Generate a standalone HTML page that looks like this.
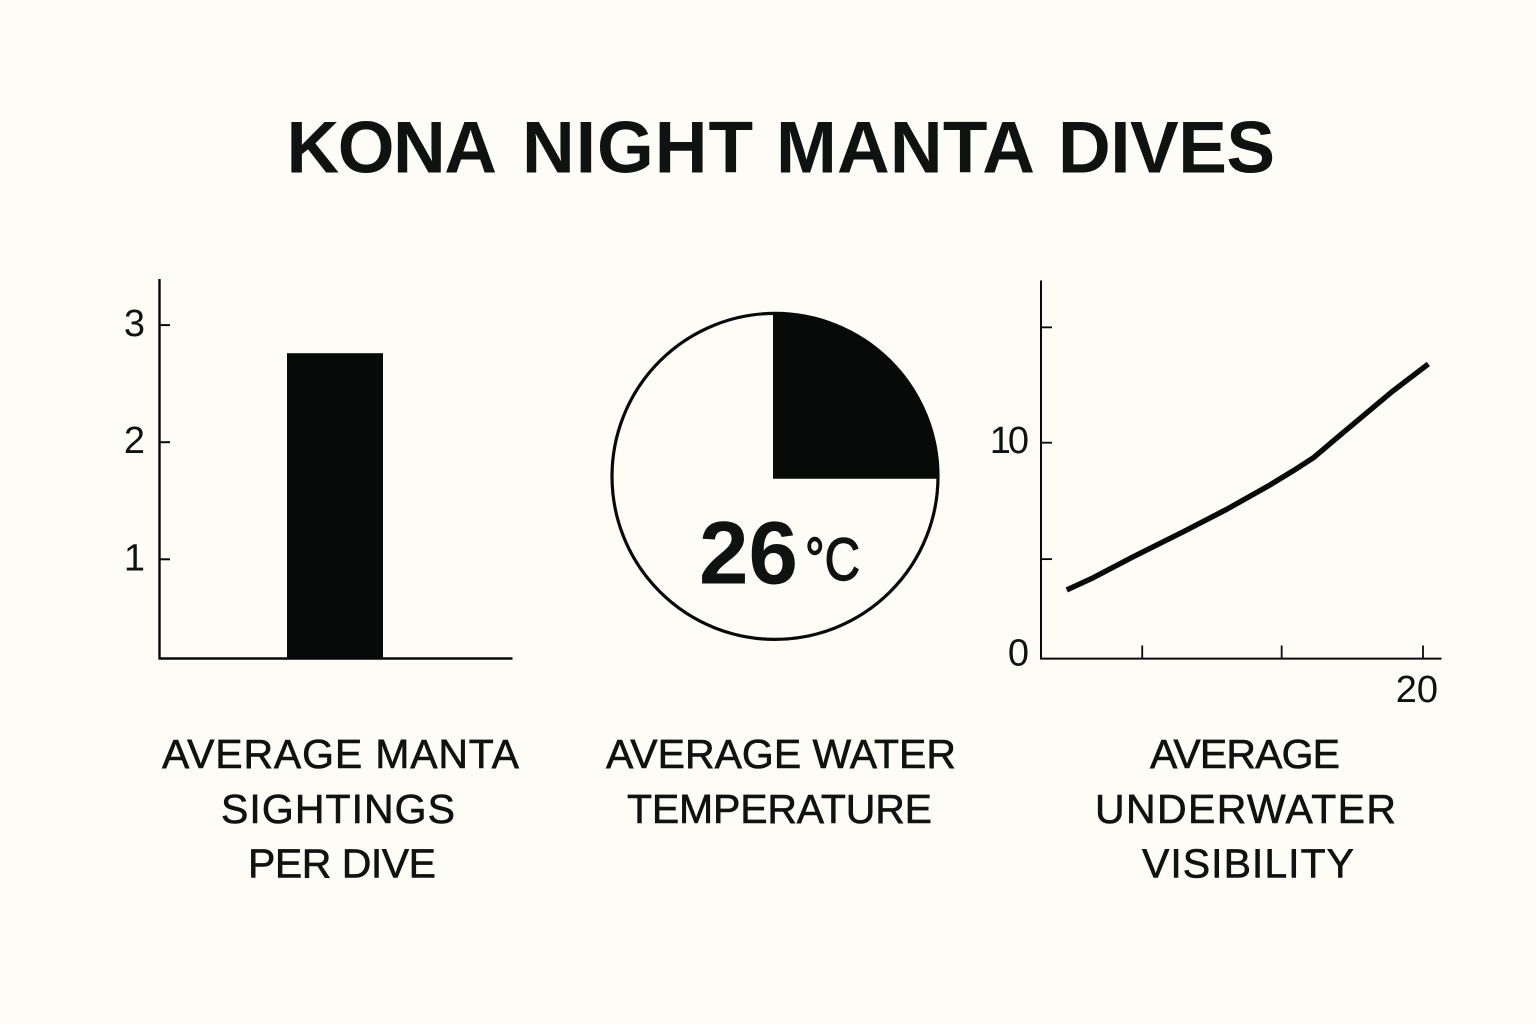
<!DOCTYPE html>
<html lang="en">
<head>
<meta charset="utf-8">
<title>Kona Night Manta Dives</title>
<style>
html,body{margin:0;padding:0;background:#fefcf7;}
svg{display:block;}
text{font-family:"Liberation Sans",sans-serif;fill:#0e1211;}
.cap{font-size:41px;stroke:#0e1211;stroke-width:.6px;}
.tick{font-size:38px;}
</style>
</head>
<body>
<svg id="chart" xmlns="http://www.w3.org/2000/svg" width="1536" height="1024" viewBox="0 0 1536 1024">
  <rect width="1536" height="1024" fill="#fefcf7"/>
  <text y="172.5" font-size="73" font-weight="700"><tspan x="286.5" letter-spacing="-1.5">KONA</tspan> <tspan x="522" letter-spacing="1">NIGHT</tspan> <tspan x="776" letter-spacing="0.2">MANTA</tspan> <tspan x="1058" letter-spacing="-0.5">DIVES</tspan></text>

  <g id="bar-panel"></g>
  <g id="pie-panel"></g>
  <g id="line-panel"></g>

  <text class="cap" x="162" y="768" textLength="357" lengthAdjust="spacing">AVERAGE MANTA</text>
  <text class="cap" x="221" y="823" textLength="234" lengthAdjust="spacing">SIGHTINGS</text>
  <text class="cap" x="248" y="877.5" textLength="188" lengthAdjust="spacing">PER DIVE</text>

  <text class="cap" x="606" y="768" textLength="350" lengthAdjust="spacing">AVERAGE WATER</text>
  <text class="cap" x="627" y="823" textLength="305" lengthAdjust="spacing">TEMPERATURE</text>

  <text class="cap" x="1150" y="768" textLength="190" lengthAdjust="spacing">AVERAGE</text>
  <text class="cap" x="1095" y="823" textLength="301" lengthAdjust="spacing">UNDERWATER</text>
  <text class="cap" x="1142" y="877.5" textLength="212" lengthAdjust="spacing">VISIBILITY</text>
</svg>

<script>
// Bar chart data
var barValues = [2.76];
var barTickValues = [1, 2, 3];
var barTickLabels = ["1", "2", "3"];

// Pie chart data
var pieShares = [0.25];
var pieValueLabel = ["26"];
var pieUnitLabel = ["°C"];

// Line chart data
var lineX = [1.35, 2.74, 4.83, 7.45, 9.72, 11.99, 13.21, 14.26, 15.65, 17.05, 18.44, 20.28];
var lineY = [3.17, 3.74, 4.71, 5.87, 6.91, 8.04, 8.70, 9.30, 10.34, 11.38, 12.41, 13.65];
var lineYTickValues = [0, 4.6, 10, 15.35];
var lineYTickLabels = ["0", "", "10", ""];
var lineXTickValues = [5.3, 12.6, 20];
var lineXTickLabels = ["", "", "20"];

var NS = "http://www.w3.org/2000/svg";
var INK = "#070a08";

function make(parent, tag, attrs) {
  var el = document.createElementNS(NS, tag);
  for (var k in attrs) { el.setAttribute(k, attrs[k]); }
  parent.appendChild(el);
  return el;
}

// ---------- bar panel ----------
var barPanel = document.getElementById("bar-panel");
function barY(v) { return 676.4 - 117.1 * v; }
var barBase = 658;

barValues.forEach(function (v) {
  var bar = make(barPanel, "rect", { x: 287, y: barY(v), width: 96, height: barBase - barY(v), fill: INK });
  
  
});

var barAxisY = make(barPanel, "line", { x1: 159.5, y1: 279, x2: 159.5, y2: 659, stroke: INK, "stroke-width": 2.4 });


var barAxisX = make(barPanel, "line", { x1: 158.5, y1: barBase + 0.5, x2: 512.5, y2: barBase + 0.5, stroke: INK, "stroke-width": 2.4 });



barTickValues.forEach(function (v, i) {
  var t = make(barPanel, "line", { x1: 160, y1: barY(v), x2: 170, y2: barY(v), stroke: INK, "stroke-width": 2 });
  
  
  var l = make(barPanel, "text", { x: 145, y: barY(v) + 11, "text-anchor": "end", "class": "tick" });
  l.textContent = barTickLabels[i];
  
  
});

// ---------- pie panel ----------
var piePanel = document.getElementById("pie-panel");
var ring = make(piePanel, "circle", { cx: 775, cy: 476.4, r: 163, fill: "#fefcf7", stroke: INK, "stroke-width": 3.2 });



function piePoint(share) {
  var a = share * 2 * Math.PI;
  return [773 + 165.5 * Math.sin(a), 478.7 - 165.5 * Math.cos(a)];
}
pieShares.forEach(function (s) {
  var end = piePoint(s);
  var d = "M773 478.7 L773 313.2 A165.5 165.5 0 " + (s > 0.5 ? 1 : 0) + " 1 " + end[0] + " " + end[1] + " Z";
  var wedge = make(piePanel, "path", { d: d, fill: INK });
  
  
});

var tempValue = make(piePanel, "text", { x: 699, y: 583.5, "font-size": 89, "font-weight": 700 });
tempValue.textContent = pieValueLabel[0];


var tempUnit = make(piePanel, "text", { x: 805, y: 580, "font-size": 60, textLength: 55, lengthAdjust: "spacingAndGlyphs", stroke: "#0e1211", "stroke-width": 1.4 });
tempUnit.textContent = pieUnitLabel[0];



// ---------- line panel ----------
var linePanel = document.getElementById("line-panel");
function lineXPos(v) { return 1041 + 19.1 * v; }
function lineYPos(v) { return 658.3 - 21.56 * v; }

var lineAxisY = make(linePanel, "line", { x1: 1041, y1: 280.5, x2: 1041, y2: 659, stroke: INK, "stroke-width": 2 });


var lineAxisX = make(linePanel, "line", { x1: 1040, y1: 658.6, x2: 1441.5, y2: 658.6, stroke: INK, "stroke-width": 2 });



lineYTickValues.forEach(function (v, i) {
  if (v > 0) {
    var t = make(linePanel, "line", { x1: 1041, y1: lineYPos(v), x2: 1052, y2: lineYPos(v), stroke: INK, "stroke-width": 1.8 });
    
    
  }
  if (lineYTickLabels[i]) {
    var wide = lineYTickLabels[i].length > 1;
    var l = make(linePanel, "text", { x: wide ? 1026 : 1029, y: Math.min(lineYPos(v) + 10.5, 665.5), "text-anchor": "end", "letter-spacing": wide ? -3 : 0, "class": "tick" });
    l.textContent = lineYTickLabels[i];
    
    
  }
});

lineXTickValues.forEach(function (v, i) {
  var t = make(linePanel, "line", { x1: lineXPos(v), y1: 645.5, x2: lineXPos(v), y2: 658.3, stroke: INK, "stroke-width": 1.8 });
  
  
  if (lineXTickLabels[i]) {
    var l = make(linePanel, "text", { x: lineXPos(v) + 15, y: 702, "text-anchor": "end", "class": "tick" });
    l.textContent = lineXTickLabels[i];
    
    
  }
});

var pts = lineX.map(function (x, i) { return lineXPos(x) + "," + lineYPos(lineY[i]); }).join(" ");
var series = make(linePanel, "polyline", { points: pts, fill: "none", stroke: INK, "stroke-width": 5.4, "stroke-linejoin": "round" });


</script>
</body>
</html>
